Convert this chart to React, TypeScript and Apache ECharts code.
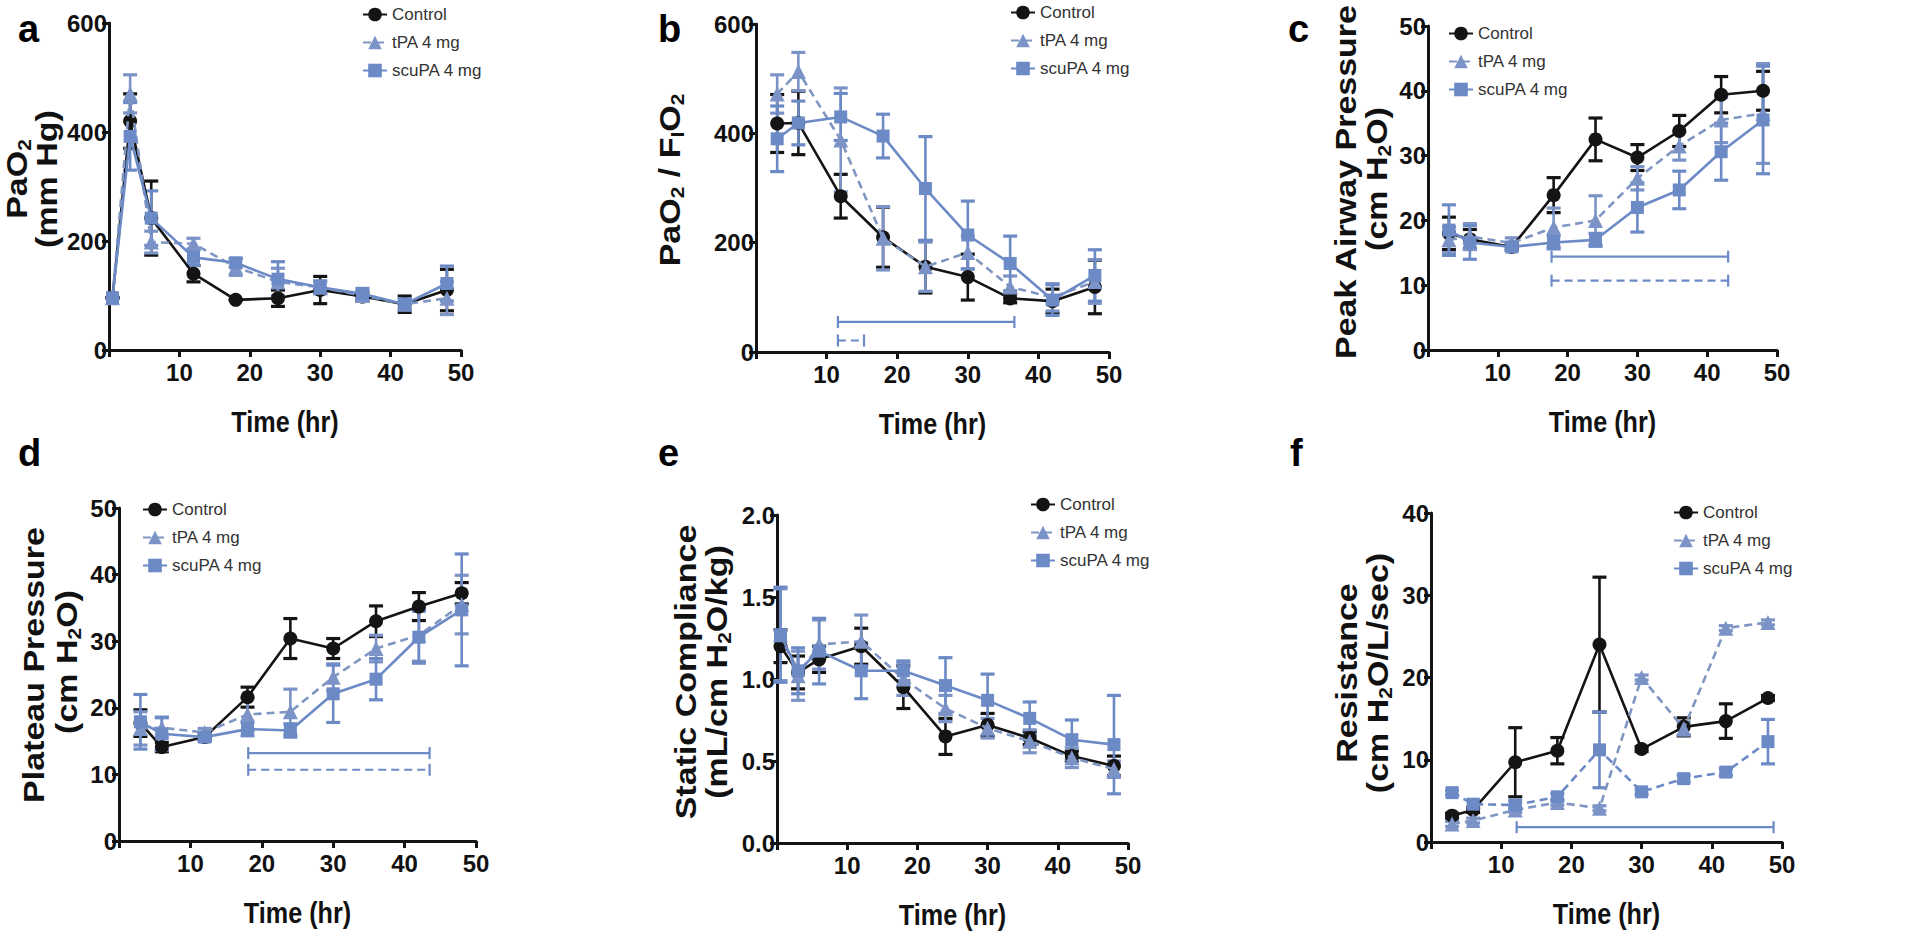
import React, { useEffect, useRef } from "react";
import * as echarts from "echarts";

// ---------- data ----------
const SERIES_NAMES = ["Control", "tPA 4 mg", "scuPA 4 mg"];

const TIMES_A = [0.5, 3, 6, 12, 18, 24, 30, 36, 42, 48];
const CTRL_A = [96, 420, 242, 140, 92, 95, 110, 98, 84, 110];
const TPA_A = [96, 470, 198, 195, 152, 125, 115, 100, 84, 95];
const SCU_A = [96, 392, 242, 170, 160, 130, 115, 103, 84, 122];
const CTRL_A_ERR = [0, 50, 68, 15, 0, 15, 25, 8, 15, 38];
const TPA_A_ERR = [0, 35, 20, 10, 15, 25, 10, 8, 10, 30];
const SCU_A_ERR = [0, 62, 50, 15, 8, 32, 12, 10, 8, 32];

const TIMES_B = [3, 6, 12, 18, 24, 30, 36, 42, 48];
const CTRL_B = [418, 419, 285, 210, 156, 137, 98, 93, 119];
const TPA_B = [472, 513, 388, 208, 156, 182, 119, 100, 129];
const SCU_B = [390, 419, 430, 395, 299, 214, 162, 95, 140];
const CTRL_B_ERR = [53, 58, 40, 55, 48, 42, 8, 22, 49];
const TPA_B_ERR = [35, 35, 95, 58, 45, 30, 20, 25, 40];
const SCU_B_ERR = [60, 40, 43, 40, 95, 62, 50, 28, 47];

const TIMES_C = [3, 6, 12, 18, 24, 30, 36, 42, 48];
const CTRL_C = [18.0, 17.1, 15.9, 23.9, 32.5, 29.7, 33.8, 39.4, 40.0];
const TPA_C = [17.0, 17.5, 16.5, 18.9, 20.0, 26.5, 31.5, 35.5, 36.5];
const SCU_C = [18.5, 16.6, 15.9, 16.6, 17.0, 22.0, 24.7, 30.6, 35.5];
const CTRL_C_ERR = [2.5, 1.5, 0.5, 2.7, 3.3, 2.0, 2.4, 2.8, 3.0];
const TPA_C_ERR = [2.0, 2.0, 0.8, 3.0, 3.8, 1.8, 2.2, 3.5, 7.7];
const SCU_C_ERR = [3.9, 2.6, 0.5, 1.0, 1.0, 3.8, 2.9, 4.4, 8.3];

const TIMES_D = [3, 6, 12, 18, 24, 30, 36, 42, 48];
const CTRL_D = [17.7, 14.1, 15.6, 21.6, 30.4, 28.9, 33.0, 35.2, 37.2];
const TPA_D = [16.9, 17.0, 16.3, 19.0, 19.4, 24.6, 28.9, 30.9, 35.5];
const SCU_D = [17.9, 16.1, 15.6, 16.8, 16.6, 22.1, 24.3, 30.6, 34.7];
const CTRL_D_ERR = [2.0, 0.7, 0.5, 1.5, 3.0, 1.5, 2.3, 2.1, 1.6];
const TPA_D_ERR = [2.5, 1.5, 0.6, 2.5, 3.4, 2.0, 2.0, 3.9, 4.4];
const SCU_D_ERR = [4.1, 2.5, 0.6, 1.0, 1.0, 4.3, 3.1, 3.9, 8.4];

const TIMES_E = [0.5, 3, 6, 12, 18, 24, 30, 36, 42, 48];
const CTRL_E = [1.2, 1.04, 1.12, 1.2, 0.95, 0.65, 0.72, 0.64, 0.53, 0.47];
const TPA_E = [1.27, 1.02, 1.21, 1.23, 1.0, 0.82, 0.7, 0.62, 0.52, 0.45];
const SCU_E = [1.27, 1.05, 1.17, 1.05, 1.05, 0.96, 0.87, 0.76, 0.63, 0.6];
const CTRL_E_ERR = [0.1, 0.1, 0.08, 0.11, 0.13, 0.11, 0.07, 0.04, 0.03, 0.06];
const TPA_E_ERR = [0.28, 0.15, 0.15, 0.16, 0.1, 0.08, 0.06, 0.07, 0.06, 0.05];
const SCU_E_ERR = [0.29, 0.14, 0.2, 0.17, 0.06, 0.17, 0.16, 0.1, 0.12, 0.3];

const TIMES_F = [3, 6, 12, 18, 24, 30, 36, 42, 48];
const CTRL_F = [3.2, 3.9, 9.7, 11.1, 24.0, 11.3, 14.0, 14.7, 17.5];
const TPA_F = [2.2, 2.6, 3.9, 4.8, 4.1, 20.0, 13.8, 26.0, 26.7];
const SCU_F = [6.0, 4.6, 4.5, 5.5, 11.2, 6.1, 7.7, 8.5, 12.2];
const CTRL_F_ERR = [0.3, 0.3, 4.2, 1.6, 8.2, 0.3, 1.1, 2.1, 0.3];
const TPA_F_ERR = [0.3, 0.3, 0.3, 0.3, 0.3, 0.3, 0.8, 0.3, 0.3];
const SCU_F_ERR = [0.3, 0.5, 0.5, 0.4, 4.6, 0.3, 0.4, 0.4, 2.7];

// significance bars: [xStart, xEnd, y, dashed(1) / solid(0)]
const SIG_B = [[11.6, 36.6, 55, 0], [11.6, 15.3, 21, 1]];
const SIG_C = [[17.7, 43.0, 14.4, 0], [17.7, 43.0, 10.7, 1]];
const SIG_D = [[18.1, 43.5, 13.2, 0], [18.1, 43.5, 10.7, 1]];
const SIG_F = [[12.2, 48.8, 1.8, 0]];

// y-axis ranges: [max, interval]
const Y_A = [600, 200];
const Y_B = [600, 200];
const Y_C = [50, 10];
const Y_D = [50, 10];
const Y_E = [2, 0.5];
const Y_F = [40, 10];
const X_MAX = 50;
const X_INTERVAL = 10;
const X_TITLE = "Time (hr)";

// ---------- styling ----------
const BLACK = "#141414";
const TPA_COLOR = "#7b93c6";
const SCU_COLOR = "#6c8ac6";
const SANS = "'Liberation Sans', Arial, Helvetica, sans-serif";
const DASH = [8, 5];

type Panel = {
  grid: { left: number; top: number; width: number; height: number };
  times: number[];
  vals: number[][];
  errs: number[][];
  y: number[];
  fmt?: (v: number) => string;
  sig?: number[][];
  scuDashed?: boolean;
  legend: { left: number; top: number };
};

const PANELS: Panel[] = [
  {
    grid: { left: 109, top: 23, width: 352, height: 327 },
    times: TIMES_A, vals: [CTRL_A, TPA_A, SCU_A], errs: [CTRL_A_ERR, TPA_A_ERR, SCU_A_ERR],
    y: Y_A, legend: { left: 362, top: 6 },
  },
  {
    grid: { left: 756, top: 24, width: 353, height: 328 },
    times: TIMES_B, vals: [CTRL_B, TPA_B, SCU_B], errs: [CTRL_B_ERR, TPA_B_ERR, SCU_B_ERR],
    y: Y_B, sig: SIG_B, legend: { left: 1010, top: 4 },
  },
  {
    grid: { left: 1428, top: 26, width: 349, height: 324 },
    times: TIMES_C, vals: [CTRL_C, TPA_C, SCU_C], errs: [CTRL_C_ERR, TPA_C_ERR, SCU_C_ERR],
    y: Y_C, sig: SIG_C, legend: { left: 1448, top: 25 },
  },
  {
    grid: { left: 119, top: 508, width: 357, height: 333 },
    times: TIMES_D, vals: [CTRL_D, TPA_D, SCU_D], errs: [CTRL_D_ERR, TPA_D_ERR, SCU_D_ERR],
    y: Y_D, sig: SIG_D, legend: { left: 142, top: 501 },
  },
  {
    grid: { left: 777, top: 515, width: 351, height: 328 },
    times: TIMES_E, vals: [CTRL_E, TPA_E, SCU_E], errs: [CTRL_E_ERR, TPA_E_ERR, SCU_E_ERR],
    y: Y_E, fmt: (v: number) => v.toFixed(1), legend: { left: 1030, top: 496 },
  },
  {
    grid: { left: 1431, top: 513, width: 351, height: 329 },
    times: TIMES_F, vals: [CTRL_F, TPA_F, SCU_F], errs: [CTRL_F_ERR, TPA_F_ERR, SCU_F_ERR],
    y: Y_F, sig: SIG_F, scuDashed: true, legend: { left: 1673, top: 504 },
  },
];

const COLORS = [BLACK, TPA_COLOR, SCU_COLOR];
const SYMBOLS = ["circle", "triangle", "rect"];
const SYMBOL_SIZES = [14, 15, 13];

const rich = {
  n: { fontSize: 34, fontWeight: "bold", fontFamily: SANS, color: "#111", lineHeight: 40 },
  s: { fontSize: 21, fontWeight: "bold", fontFamily: SANS, color: "#111", lineHeight: 21, verticalAlign: "bottom" },
};

// y titles: [text, cx, cy]
const Y_TITLES: [string, number, number][] = [
  ["{n|PaO}{s|2}", 17, 179],
  ["{n|(mm Hg)}", 47, 179],
  ["{n|PaO}{s|2}{n| / F}{s|I}{n|O}{s|2}", 670, 180],
  ["{n|Peak Airway Pressure}", 1346, 182],
  ["{n|(cm H}{s|2}{n|O)}", 1377, 179],
  ["{n|Plateau Pressure}", 34, 665],
  ["{n|(cm H}{s|2}{n|O)}", 67, 662],
  ["{n|Static Compliance}", 686, 672],
  ["{n|(mL/cm H}{s|2}{n|O/kg)}", 717, 672],
  ["{n|Resistance}", 1347, 673],
  ["{n|(cm H}{s|2}{n|O/L/sec)}", 1378, 673],
];

const LETTERS: [string, number, number][] = [
  ["a", 18, 48], ["b", 658, 48], ["c", 1288, 48],
  ["d", 18, 472], ["e", 658, 472], ["f", 1290, 472],
];

function errorSeries(idx: number, times: number[], vals: number[], errs: number[], color: string) {
  return {
    type: "custom",
    xAxisIndex: idx,
    yAxisIndex: idx,
    silent: true,
    z: 2,
    data: times.map((t, i) => [t, vals[i] - errs[i], vals[i] + errs[i]]),
    renderItem: (params: any, api: any) => {
      const x = api.value(0);
      const lo = api.coord([x, api.value(1)]);
      const hi = api.coord([x, api.value(2)]);
      const w = 7;
      return {
        type: "group",
        children: [
          { type: "line", shape: { x1: lo[0], y1: lo[1], x2: hi[0], y2: hi[1] }, style: { stroke: color, lineWidth: 2.6 } },
          { type: "line", shape: { x1: lo[0] - w, y1: lo[1], x2: lo[0] + w, y2: lo[1] }, style: { stroke: color, lineWidth: 3.2 } },
          { type: "line", shape: { x1: hi[0] - w, y1: hi[1], x2: hi[0] + w, y2: hi[1] }, style: { stroke: color, lineWidth: 3.2 } },
        ],
      };
    },
  };
}

function sigSeries(idx: number, sig: number[][]) {
  return {
    type: "custom",
    xAxisIndex: idx,
    yAxisIndex: idx,
    silent: true,
    z: 1,
    data: sig,
    renderItem: (params: any, api: any) => {
      const p1 = api.coord([api.value(0), api.value(2)]);
      const p2 = api.coord([api.value(1), api.value(2)]);
      const dashed = api.value(3) === 1;
      const h = 6;
      return {
        type: "group",
        children: [
          {
            type: "line",
            shape: { x1: p1[0], y1: p1[1], x2: p2[0], y2: p2[1] },
            style: { stroke: SCU_COLOR, lineWidth: 2.2, lineDash: dashed ? DASH : null },
          },
          { type: "line", shape: { x1: p1[0], y1: p1[1] - h, x2: p1[0], y2: p1[1] + h }, style: { stroke: SCU_COLOR, lineWidth: 2.2 } },
          { type: "line", shape: { x1: p2[0], y1: p2[1] - h, x2: p2[0], y2: p2[1] + h }, style: { stroke: SCU_COLOR, lineWidth: 2.2 } },
        ],
      };
    },
  };
}

function buildOption() {
  const grids: any[] = [];
  const xAxes: any[] = [];
  const yAxes: any[] = [];
  const legends: any[] = [];
  const lineSeries: any[] = [];
  const otherSeries: any[] = [];
  const graphics: any[] = [];

  PANELS.forEach((p, idx) => {
    grids.push({ ...p.grid, containLabel: false });
    xAxes.push({
      type: "value",
      gridIndex: idx,
      min: 0,
      max: X_MAX,
      interval: X_INTERVAL,
      axisLine: { show: true, onZero: false, lineStyle: { color: BLACK, width: 3 } },
      axisTick: { show: true, length: 7, lineStyle: { color: BLACK, width: 3 } },
      axisLabel: {
        fontSize: 24, fontWeight: "bold", fontFamily: SANS, color: "#111", margin: 10,
        formatter: (v: number) => (v === 0 ? "" : String(v)),
      },
      splitLine: { show: false },
    });
    yAxes.push({
      type: "value",
      gridIndex: idx,
      min: 0,
      max: p.y[0],
      interval: p.y[1],
      axisLine: { show: true, onZero: false, lineStyle: { color: BLACK, width: 3 } },
      axisTick: { show: true, length: 7, lineStyle: { color: BLACK, width: 3 } },
      axisLabel: {
        fontSize: 24, fontWeight: "bold", fontFamily: SANS, color: "#111", margin: 2,
        formatter: p.fmt ? p.fmt : (v: number) => String(v),
      },
      splitLine: { show: false },
    });
    legends.push({
      left: p.legend.left,
      top: p.legend.top,
      orient: "vertical",
      padding: 0,
      itemWidth: 24,
      itemHeight: 17,
      itemGap: 11,
      selectedMode: false,
      textStyle: { fontSize: 17, color: "#333", fontFamily: SANS, lineHeight: 17 },
      data: SERIES_NAMES,
    });

    // x-axis title (condensed like the original figure)
    graphics.push({
      type: "text",
      x: p.grid.left + p.grid.width / 2,
      y: p.grid.top + p.grid.height + 72,
      scaleX: 0.84,
      silent: true,
      style: {
        text: X_TITLE, fontSize: 30, fontWeight: "bold", fontFamily: SANS, fill: "#111",
        align: "center", verticalAlign: "middle",
      },
    });

    SERIES_NAMES.forEach((name, k) => {
      const dashed = k === 1 || (k === 2 && p.scuDashed);
      lineSeries.push({
        type: "line",
        name,
        xAxisIndex: idx,
        yAxisIndex: idx,
        data: p.times.map((t, i) => [t, p.vals[k][i]]),
        symbol: SYMBOLS[k],
        symbolSize: SYMBOL_SIZES[k],
        showSymbol: true,
        lineStyle: { color: k === 1 ? "#8096c2" : COLORS[k], width: 2.6, type: dashed ? DASH : "solid" },
        itemStyle: { color: COLORS[k] },
        z: 3 + k,
        silent: true,
      });
      otherSeries.push(errorSeries(idx, p.times, p.vals[k], p.errs[k], COLORS[k]));
    });
    if (p.sig) otherSeries.push(sigSeries(idx, p.sig));
  });

  Y_TITLES.forEach(([text, cx, cy]) => {
    graphics.push({
      type: "text",
      x: cx,
      y: cy,
      rotation: Math.PI / 2,
      scaleY: 0.85,
      silent: true,
      style: { text, rich, align: "center", verticalAlign: "middle", fill: "#111" },
    });
  });
  LETTERS.forEach(([t, x, y]) => {
    graphics.push({
      type: "text",
      x,
      y,
      silent: true,
      style: { text: t, fontSize: 38, fontWeight: "bold", fontFamily: SANS, fill: "#000", align: "left", verticalAlign: "bottom" },
    });
  });

  return {
    animation: false,
    backgroundColor: "#ffffff",
    grid: grids,
    xAxis: xAxes,
    yAxis: yAxes,
    legend: legends,
    series: [...lineSeries, ...otherSeries],
    graphic: graphics,
  };
}

export default function App() {
  const ref = useRef<HTMLDivElement>(null);
  useEffect(() => {
    if (!ref.current) return;
    const chart = echarts.init(ref.current, undefined, { renderer: "svg" });
    chart.setOption(buildOption() as any);
    return () => chart.dispose();
  }, []);
  return (
    <div
      ref={ref}
      style={{ position: "fixed", left: 0, top: 0, width: 1915, height: 937, background: "#fff" }}
    />
  );
}
